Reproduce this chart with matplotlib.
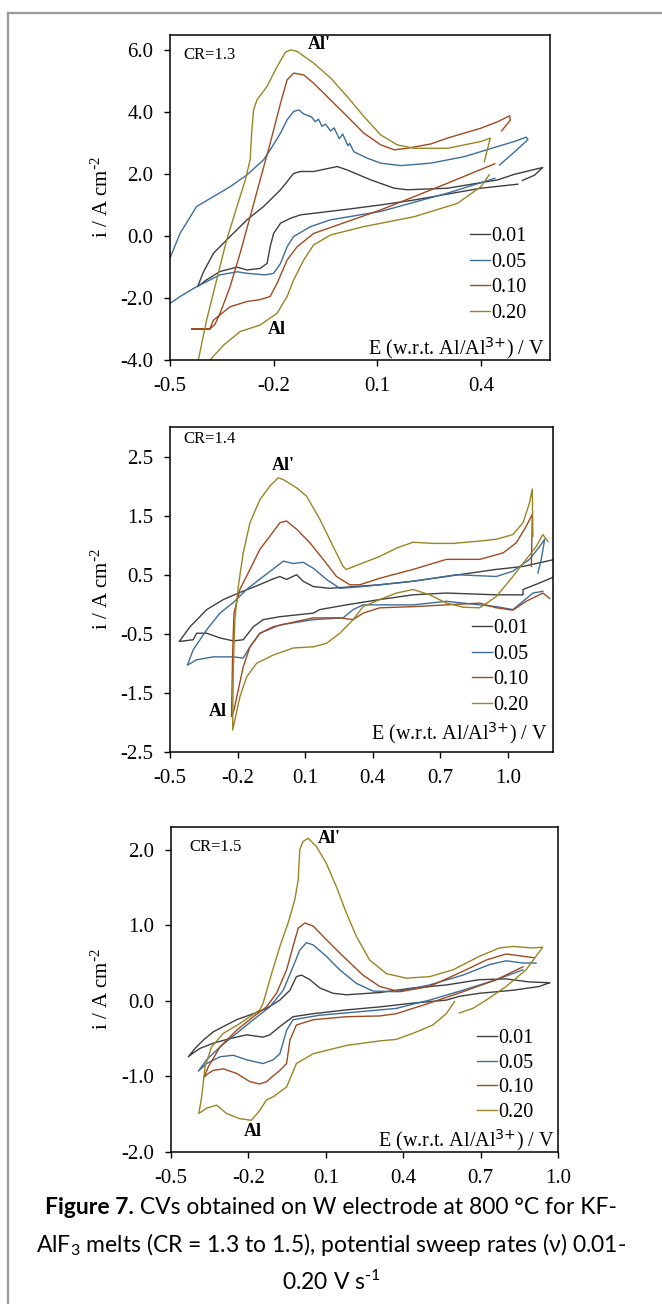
import numpy as np
import matplotlib
matplotlib.use('Agg')
import matplotlib.pyplot as plt
from matplotlib.lines import Line2D

plt.rcParams['font.family'] = 'Liberation Serif'
plt.rcParams['mathtext.default'] = 'regular'
plt.rcParams['axes.unicode_minus'] = False

rates = ['0.01', '0.05', '0.10', '0.20']
colors = ['#3f3f3f', '#3d6d9b', '#a04a1f', '#9a8524']

# ---- CR = 1.3 ----
e13_001 = [0.507, 0.40, 0.303, 0.207, 0.11, 0.013, -0.084, -0.122, -0.151, -0.18, -0.20, -0.21, -0.219, -0.239,
           -0.277, -0.306, -0.355, -0.394, -0.42, -0.403, -0.374, -0.326, -0.277, -0.229, -0.18, -0.142, -0.122,
           -0.084, -0.016, 0.013, 0.081, 0.149, 0.187, 0.303, 0.449, 0.497, 0.579, 0.555, 0.52]
i13_001 = [1.68, 1.55, 1.36, 1.17, 1.01, 0.87, 0.74, 0.69, 0.58, 0.42, 0.09, -0.34, -0.88, -1.04,
           -1.09, -1.00, -1.14, -1.41, -1.63, -1.15, -0.55, -0.01, 0.53, 0.96, 1.50, 2.03, 2.09,
           2.09, 2.25, 2.14, 1.82, 1.55, 1.50, 1.55, 1.82, 2.00, 2.22, 1.97, 1.80]

e13_005 = [0.44, 0.303, 0.11, -0.035, -0.093, -0.142, -0.161, -0.18, -0.20, -0.224, -0.277, -0.306, -0.355,
           -0.423, -0.471, -0.50, -0.53, -0.53, -0.50, -0.471, -0.423, -0.374, -0.326, -0.277, -0.229, -0.21,
           -0.18, -0.161, -0.142, -0.127, -0.113, -0.09, -0.08, -0.07, -0.06, -0.05, -0.035, -0.025, -0.01, 0.0,
           0.015, 0.02, 0.032, 0.071, 0.11, 0.168, 0.255, 0.352, 0.449, 0.497, 0.531, 0.536, 0.50, 0.454]
i13_005 = [1.87, 1.39, 0.80, 0.53, 0.31, -0.01, -0.34, -0.88, -1.20, -1.25, -1.20, -1.15, -1.25,
           -1.63, -1.95, -2.17, -2.40, -1.20, -0.71, 0.09, 0.96, 1.28, 1.60, 1.98, 2.47, 2.79,
           3.33, 3.76, 4.03, 4.08, 3.95, 3.85, 3.70, 3.78, 3.55, 3.62, 3.40, 3.50, 3.15, 3.30,
           2.92, 3.00, 2.73, 2.52, 2.36, 2.28, 2.36, 2.57, 2.90, 3.06, 3.20, 3.12, 2.75, 2.30]

e13_010 = [0.44, 0.303, 0.207, 0.11, 0.013, -0.084, -0.132, -0.161, -0.19, -0.21, -0.24, -0.277, -0.326,
           -0.374, -0.385, -0.437, -0.385, -0.37, -0.355, -0.326, -0.297, -0.268, -0.239, -0.21, -0.18,
           -0.161, -0.142, -0.113, -0.084, -0.035, 0.013, 0.061, 0.11, 0.149, 0.187, 0.255, 0.303, 0.352,
           0.40, 0.449, 0.483, 0.485, 0.46]
i13_010 = [2.34, 1.71, 1.28, 0.85, 0.47, 0.09, -0.34, -0.77, -1.52, -1.95, -2.05, -2.11, -2.28,
           -2.71, -3.00, -3.00, -3.00, -2.85, -2.49, -1.63, -0.55, 0.63, 1.82, 3.00, 4.30,
           5.05, 5.27, 5.21, 4.94, 4.40, 3.87, 3.33, 2.95, 2.79, 2.84, 2.98, 3.17, 3.33,
           3.49, 3.70, 3.89, 3.75, 3.40]

e13_020 = [0.424, 0.40, 0.332, 0.207, 0.061, -0.035, -0.084, -0.113, -0.142, -0.161, -0.19, -0.239, -0.297,
           -0.345, -0.384, -0.40, -0.43, -0.418, -0.394, -0.365, -0.336, -0.306, -0.282, -0.268, -0.263,
           -0.258, -0.248, -0.219, -0.19, -0.166, -0.151, -0.132, -0.084, -0.035, 0.013, 0.061, 0.11, 0.158,
           0.207, 0.303, 0.352, 0.40, 0.427, 0.41]
i13_020 = [1.98, 1.60, 1.06, 0.63, 0.31, 0.04, -0.28, -0.77, -1.41, -1.95, -2.49, -2.87, -3.08,
           -3.52, -4.00, -4.30, -4.50, -4.00, -2.71, -1.41, -0.12, 0.96, 1.82, 2.47, 3.44,
           4.08, 4.41, 4.84, 5.48, 5.94, 6.02, 5.97, 5.59, 5.11, 4.51, 3.87, 3.27, 2.95,
           2.84, 2.84, 2.95, 3.06, 3.17, 2.41]

# ---- CR = 1.4 ----
e14_001 = [1.22, 1.14, 1.067, 1.067, 0.948, 0.727, 0.579, 0.431, 0.283, 0.165, 0.136, -0.012, -0.086, -0.13,
           -0.175, -0.219, -0.278, -0.337, -0.382, -0.397, -0.459, -0.411, -0.337, -0.263, -0.19, -0.116,
           -0.042, -0.012, 0.017, 0.062, 0.091, 0.136, 0.209, 0.431, 0.579, 0.727, 0.948, 1.067, 1.22]
i14_001 = [0.49, 0.36, 0.25, 0.16, 0.16, 0.19, 0.16, 0.08, -0.01, -0.09, -0.15, -0.21, -0.26, -0.38,
           -0.60, -0.62, -0.57, -0.49, -0.49, -0.60, -0.63, -0.38, -0.09, 0.08, 0.20, 0.31,
           0.43, 0.47, 0.42, 0.50, 0.39, 0.30, 0.27, 0.33, 0.39, 0.47, 0.59, 0.64, 0.77]

e14_005 = [1.155, 1.111, 1.022, 0.948, 0.727, 0.579, 0.431, 0.357, 0.313, 0.268, 0.136, -0.012, -0.101,
           -0.145, -0.175, -0.219, -0.308, -0.382, -0.423, -0.397, -0.337, -0.278, -0.219, -0.16, -0.086,
           -0.027, 0.003, 0.047, 0.091, 0.136, 0.195, 0.254, 0.357, 0.579, 0.771, 0.948, 1.022, 1.096,
           1.141, 1.163, 1.148, 1.133]
i14_005 = [0.22, 0.19, -0.09, -0.04, 0.05, -0.01, -0.01, -0.01, -0.09, -0.23, -0.26, -0.35, -0.49,
           -0.72, -0.91, -0.89, -0.89, -0.94, -1.03, -0.77, -0.43, -0.15, 0.03, 0.25, 0.47,
           0.64, 0.73, 0.69, 0.71, 0.61, 0.42, 0.27, 0.30, 0.39, 0.50, 0.47, 0.56, 0.76,
           0.98, 1.10, 0.76, 0.53]

e14_010 = [1.185, 1.155, 1.081, 1.022, 0.948, 0.875, 0.727, 0.579, 0.431, 0.357, 0.313, 0.254, 0.136, 0.062,
           -0.042, -0.101, -0.145, -0.175, -0.197, -0.216, -0.227, -0.222, -0.216, -0.19, -0.145, -0.101,
           -0.057, -0.012, 0.017, 0.062, 0.121, 0.18, 0.239, 0.298, 0.342, 0.431, 0.579, 0.727, 0.875,
           0.979, 1.037, 1.081, 1.108, 1.104]
i14_010 = [0.10, 0.19, 0.05, -0.10, -0.06, 0.02, -0.01, -0.04, -0.06, -0.15, -0.26, -0.23, -0.23, -0.29,
           -0.38, -0.49, -0.72, -1.06, -1.45, -1.79, -1.90, -0.83, -0.15, 0.25, 0.59, 0.93,
           1.15, 1.38, 1.41, 1.27, 1.04, 0.76, 0.47, 0.33, 0.33, 0.44, 0.59, 0.76, 0.76,
           0.87, 1.04, 1.32, 1.52, 0.64]

e14_020 = [1.178, 1.155, 1.126, 1.081, 1.022, 0.948, 0.875, 0.801, 0.727, 0.653, 0.579, 0.505, 0.431, 0.357,
           0.313, 0.254, 0.195, 0.136, 0.047, -0.042, -0.116, -0.16, -0.19, -0.212, -0.222, -0.219, -0.212,
           -0.197, -0.175, -0.145, -0.101, -0.057, -0.02, 0.003, 0.062, 0.106, 0.165, 0.224, 0.268, 0.283,
           0.357, 0.431, 0.505, 0.579, 0.668, 0.757, 0.875, 0.948, 1.022, 1.067, 1.096, 1.108, 1.111]
i14_020 = [1.06, 1.18, 0.98, 0.76, 0.47, 0.13, -0.06, -0.05, 0.02, 0.16, 0.25, 0.19, 0.08, -0.04,
           -0.26, -0.49, -0.66, -0.72, -0.74, -0.86, -1.00, -1.23, -1.57, -1.96, -2.13, -1.11, -0.26,
           0.30, 0.87, 1.38, 1.77, 2.00, 2.14, 2.11, 1.97, 1.83, 1.44, 0.98, 0.64, 0.59,
           0.70, 0.81, 0.95, 1.05, 1.03, 1.03, 1.07, 1.10, 1.18, 1.38, 1.72, 1.95, 1.15]

# ---- CR = 1.5 ----
e15_001 = [0.967, 0.928, 0.825, 0.696, 0.618, 0.567, 0.438, 0.309, 0.18, 0.051, -0.027, -0.078, -0.117,
           -0.143, -0.207, -0.272, -0.336, -0.388, -0.414, -0.433, -0.407, -0.375, -0.336, -0.297, -0.246,
           -0.181, -0.13, -0.078, -0.039, -0.014, 0.006, 0.038, 0.077, 0.128, 0.18, 0.309, 0.438, 0.567,
           0.696, 0.799, 0.889, 0.967]
i15_001 = [0.24, 0.19, 0.14, 0.10, 0.06, 0.01, -0.03, -0.08, -0.12, -0.17, -0.21, -0.34, -0.45,
           -0.48, -0.45, -0.50, -0.56, -0.63, -0.69, -0.74, -0.63, -0.52, -0.41, -0.34, -0.25,
           -0.17, -0.10, 0.01, 0.14, 0.32, 0.34, 0.28, 0.17, 0.10, 0.08, 0.11, 0.17, 0.21,
           0.28, 0.29, 0.25, 0.24]

e15_005 = [0.864, 0.761, 0.631, 0.502, 0.373, 0.244, 0.077, -0.027, -0.052, -0.078, -0.104, -0.143, -0.207,
           -0.259, -0.31, -0.362, -0.394, -0.362, -0.31, -0.246, -0.181, -0.117, -0.065, -0.027, -0.001,
           0.025, 0.051, 0.102, 0.154, 0.219, 0.283, 0.373, 0.502, 0.631, 0.735, 0.799, 0.864, 0.915]
i15_005 = [0.41, 0.28, 0.14, 0.01, -0.10, -0.14, -0.19, -0.25, -0.39, -0.70, -0.78, -0.83, -0.78,
           -0.72, -0.74, -0.83, -0.93, -0.78, -0.61, -0.43, -0.25, -0.08, 0.14, 0.45, 0.67,
           0.77, 0.74, 0.59, 0.41, 0.23, 0.13, 0.12, 0.21, 0.34, 0.48, 0.53, 0.50, 0.50]

e15_010 = [0.864, 0.761, 0.631, 0.502, 0.373, 0.309, 0.18, 0.051, -0.014, -0.039, -0.052, -0.078, -0.11,
           -0.13, -0.156, -0.194, -0.246, -0.297, -0.336, -0.355, -0.372, -0.355, -0.31, -0.246, -0.181,
           -0.13, -0.091, -0.052, -0.027, -0.007, 0.019, 0.051, 0.102, 0.167, 0.244, 0.309, 0.386, 0.502,
           0.631, 0.722, 0.799, 0.864, 0.909]
i15_010 = [0.45, 0.28, 0.12, -0.03, -0.17, -0.20, -0.21, -0.25, -0.32, -0.52, -0.83, -0.92, -1.01,
           -1.07, -1.10, -1.07, -0.96, -0.90, -0.92, -0.96, -1.01, -0.87, -0.61, -0.39, -0.21,
           -0.08, 0.10, 0.41, 0.72, 0.96, 1.03, 0.99, 0.81, 0.59, 0.34, 0.19, 0.12, 0.19,
           0.39, 0.54, 0.62, 0.59, 0.57]

e15_020 = [0.599, 0.567, 0.515, 0.438, 0.373, 0.309, 0.18, 0.051, -0.014, -0.052, -0.104, -0.13, -0.156,
           -0.188, -0.233, -0.285, -0.323, -0.362, -0.392, -0.381, -0.368, -0.343, -0.297, -0.233, -0.156,
           -0.143, -0.11, -0.078, -0.046, -0.02, -0.007, -0.001, 0.012, 0.032, 0.064, 0.102, 0.141, 0.18,
           0.219, 0.27, 0.335, 0.412, 0.502, 0.593, 0.696, 0.773, 0.825, 0.902, 0.941, 0.876, 0.799,
           0.722, 0.67, 0.618]
i15_020 = [-0.01, -0.17, -0.32, -0.43, -0.51, -0.53, -0.59, -0.70, -0.83, -1.14, -1.27, -1.31, -1.45,
           -1.58, -1.56, -1.49, -1.38, -1.42, -1.49, -1.27, -0.87, -0.61, -0.43, -0.30, -0.12,
           -0.03, 0.36, 0.72, 1.03, 1.34, 1.60, 2.00, 2.11, 2.15, 2.04, 1.82, 1.51, 1.16,
           0.85, 0.54, 0.36, 0.30, 0.32, 0.41, 0.59, 0.70, 0.72, 0.70, 0.71, 0.41, 0.19,
           0.01, -0.10, -0.16]

panels = [
    dict(cr='CR=1.3', curves=[(e13_001, i13_001), (e13_005, i13_005), (e13_010, i13_010), (e13_020, i13_020)],
         xlim=(-0.5, 0.6), ylim=(-4.0, 6.5), yticks=np.arange(-4.0, 6.01, 2.0), xticks=[-0.5, -0.2, 0.1, 0.4],
         rect=[170, 35, 380, 325], al_top=(-0.069, 6.18), al_bot=(-0.19, -3.03), cr_pos=(-0.462, 5.86),
         leg=(0.79, 0.41), legsp=0.33, xlab=(0.987, 0.037)),
    dict(cr='CR=1.4', curves=[(e14_001, i14_001), (e14_005, i14_005), (e14_010, i14_010), (e14_020, i14_020)],
         xlim=(-0.5, 1.2), ylim=(-2.5, 3.0), yticks=np.arange(-2.5, 2.51, 1.0), xticks=[-0.5, -0.2, 0.1, 0.4, 0.7, 1.0],
         rect=[170, 427, 383, 325], al_top=(0.003, 2.34), al_bot=(-0.286, -1.82), cr_pos=(-0.44, 2.79),
         leg=(0.789, 0.41), legsp=0.33, xlab=(0.987, 0.058)),
    dict(cr='CR=1.5', curves=[(e15_001, i15_001), (e15_005, i15_005), (e15_010, i15_010), (e15_020, i15_020)],
         xlim=(-0.5, 1.0), ylim=(-2.0, 2.3), yticks=np.arange(-2.0, 2.01, 1.0), xticks=[-0.5, -0.2, 0.1, 0.4, 0.7, 1.0],
         rect=[171, 827, 387, 325], al_top=(0.115, 2.15), al_bot=(-0.181, -1.73), cr_pos=(-0.428, 2.04),
         leg=(0.791, 0.378), legsp=0.27, xlab=(0.992, 0.037)),
]

W, H = 662, 1304
fig = plt.figure(figsize=(W / 100, H / 100), dpi=100)

for p in panels:
    left, top, w, h = p['rect']
    ax = fig.add_axes([left / W, 1 - (top + h) / H, w / W, h / H])
    handles = []
    for (e, i), c, r in zip(p['curves'], colors, rates):
        ln, = ax.plot(e, i, color=c, lw=1.0, label=r)
        handles.append(ln)
    ax.set_xlim(*p['xlim'])
    ax.set_ylim(*p['ylim'])
    ax.set_xticks(p['xticks'])
    ax.set_yticks(p['yticks'])
    ax.set_xticklabels(['%.1f' % v for v in p['xticks']])
    ax.set_yticklabels(['%.1f' % v for v in p['yticks']])
    ax.tick_params(direction='out', length=4, width=1, labelsize=15, pad=8, colors='black')
    for s in ax.spines.values():
        s.set_linewidth(1.1)
    ax.set_ylabel(r'i / A cm$^{\text{-}2}$', fontsize=15)
    ax.yaxis.set_label_coords(-0.15, 0.5)
    ax.text(p['xlab'][0], p['xlab'][1], r'E (w.r.t. Al/Al$^{\text{3+}}$) / V', transform=ax.transAxes,
            ha='right', va='center', fontsize=14.5)
    ax.text(p['cr_pos'][0], p['cr_pos'][1], p['cr'], ha='left', va='center', fontsize=12)
    ax.text(p['al_top'][0], p['al_top'][1], "Al'", ha='center', va='center', fontsize=13, fontweight='bold')
    ax.text(p['al_bot'][0], p['al_bot'][1], 'Al', ha='center', va='center', fontsize=13, fontweight='bold')
    ax.legend(handles=handles, loc='upper left', bbox_to_anchor=p['leg'], frameon=False, fontsize=14.5,
              handlelength=1.0, handletextpad=0.05, borderpad=0, borderaxespad=0, labelspacing=p['legsp'])

# outer frame lines
fig.add_artist(Line2D([7.5 / W, 1.0], [1 - 13 / H, 1 - 13 / H], color='#999999', lw=1.6, transform=fig.transFigure))
fig.add_artist(Line2D([7.5 / W, 7.5 / W], [0.0, 1 - 13 / H], color='#999999', lw=1.6, transform=fig.transFigure))

# caption
cap_font = ['Lato', 'DejaVu Sans']
renderer = fig.canvas.get_renderer()
t_bold = fig.text(0, 1 - 1207 / H, 'Figure 7.', fontsize=16.5, fontweight='bold', family=cap_font, va='center')
t_rest = fig.text(0, 1 - 1207 / H, ' CVs obtained on W electrode at 800 °C for KF-', fontsize=16.5,
                  family=cap_font, va='center')
wb = t_bold.get_window_extent(renderer).width
wr = t_rest.get_window_extent(renderer).width
x0 = (W / 2 - (wb + wr) / 2) / W
t_bold.set_x(x0)
t_rest.set_x(x0 + wb / W)
fig.text(0.5, 1 - 1245 / H, 'AlF$_3$ melts (CR = 1.3 to 1.5), potential sweep rates (ν) 0.01-', fontsize=16.5,
         family=cap_font, ha='center', va='center')
fig.text(0.5, 1 - 1282 / H, r'0.20 V s$^{\text{-}1}$', fontsize=16.5, family=cap_font, ha='center', va='center')

fig.savefig('out.png', dpi=100)
